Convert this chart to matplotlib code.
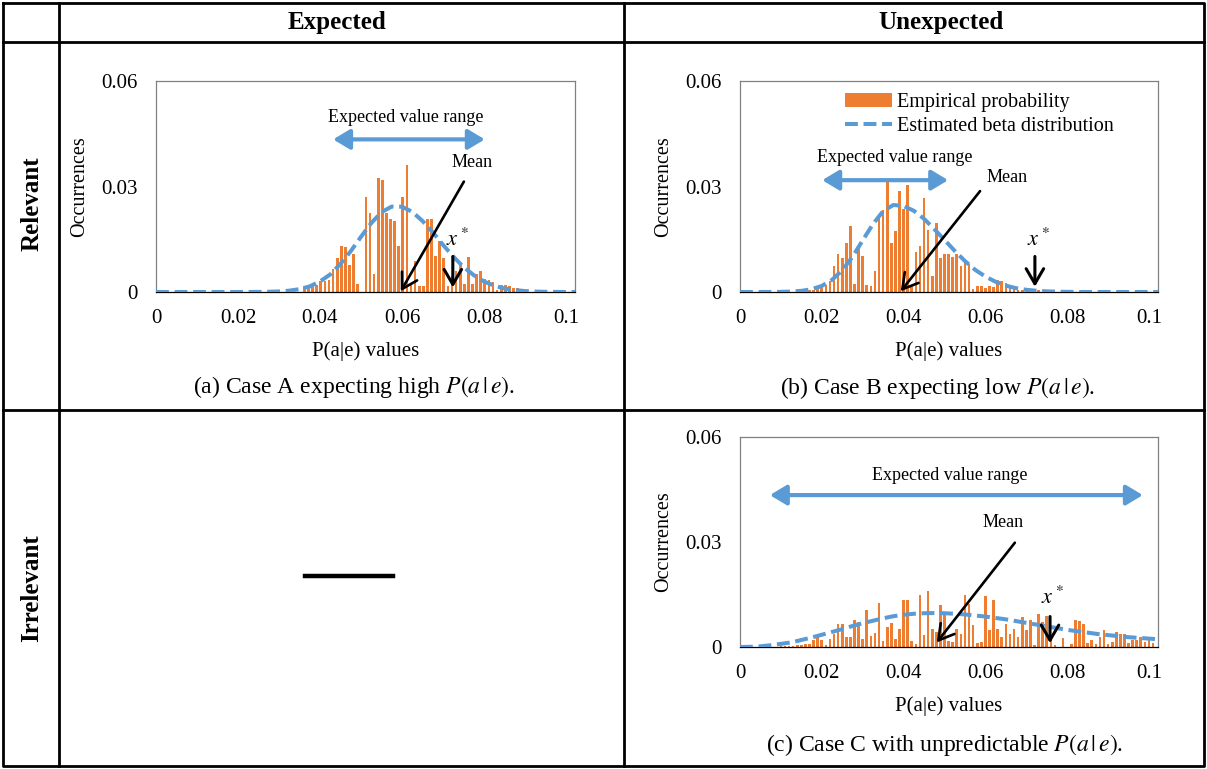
import numpy as np
import matplotlib
matplotlib.use("Agg")
import matplotlib.pyplot as plt

plt.rcParams["font.family"] = ["Liberation Serif", "DejaVu Serif"]
plt.rcParams["mathtext.fontset"] = "stix"

# histogram bins (width 0.001), heights in units of 1e-3
bin_step = 0.001
start_a = 0.0362
probs_a = [1.6, 2.1, 2.4, 2.1, 3.0, 3.0, 3.5, 6.6, 9.7, 13.2,
           12.8, 7.8, 10.9, 2.4, 0.0, 27.1, 22.4, 5.0, 32.3, 31.8,
           22.6, 20.7, 20.2, 13.2, 27.1, 36.1, 2.6, 8.8, 1.6, 1.6,
           20.9, 20.7, 10.2, 14.5, 9.7, 1.8, 4.5, 5.9, 8.1, 2.4,
           10.0, 2.4, 5.0, 6.1, 3.7, 3.5, 2.8, 0.7, 2.1, 2.1,
           1.6, 1.1, 1.0]

start_b = 0.017
probs_b = [0.7, 0.7, 1.1, 1.6, 2.1, 3.0, 7.5, 10.7, 9.7, 13.8,
           18.9, 2.4, 13.2, 10.2, 1.9, 1.6, 6.1, 21.6, 23.2, 31.3,
           13.8, 17.3, 28.8, 23.5, 30.4, 1.6, 11.3, 13.2, 26.6, 17.6,
           4.5, 19.5, 9.7, 10.7, 10.7, 10.0, 10.7, 7.3, 8.5, 8.1,
           0.9, 1.6, 1.6, 1.1, 1.8, 1.4, 3.3, 3.0, 2.6, 1.6,
           0.9, 0.7, 0.5, 0.9, 0.9, 0.7, 0.5]

start_c = 0.010
probs_c = [0.3, 0.3, 0.2, 0.4, 0.7, 0.5, 1.0, 0.8, 1.9, 3.3,
           1.9, 0.7, 2.4, 3.6, 6.7, 6.7, 2.9, 2.9, 7.8, 7.1,
           2.4, 10.7, 3.1, 4.1, 12.7, 1.7, 5.7, 6.9, 2.4, 5.2,
           13.3, 13.3, 1.6, 0.8, 15.0, 3.5, 15.9, 5.2, 4.3, 12.1,
           9.2, 1.6, 1.4, 5.2, 3.8, 15.0, 12.4, 6.4, 1.1, 1.4,
           14.6, 5.0, 13.3, 5.2, 2.9, 6.7, 3.8, 5.2, 2.9, 8.6,
           5.0, 7.6, 0.7, 9.5, 7.1, 8.8, 2.4, 0.5, 0.0, 2.7,
           0.0, 0.8, 7.6, 7.4, 6.7, 1.1, 1.9, 1.0, 3.0, 4.8,
           1.0, 1.4, 4.3, 3.8, 3.8, 1.1, 2.1, 2.1, 3.0, 1.4,
           2.4, 1.2]

# estimated beta curves, read every 0.0025 from 0 to 0.1025 (units of 1e-3)
curve_step = 0.0025
beta_a = [0, 0, 0, 0, 0, 0, 0, 0, 0, 0.01, 0.02, 0.07,
          0.16, 0.38, 0.81, 1.6, 3.0, 5.0, 8.0, 11.6, 15.7, 19.6,
          22.7, 24.3, 24.25, 22.8, 20.2, 17.0, 13.4, 10.1, 7.1, 4.8,
          3.0, 1.8, 1.0, 0.54, 0.27, 0.12, 0.05, 0.02, 0.0, 0.0]
beta_b = [0, 0, 0, 0.01, 0.04, 0.12, 0.32, 0.79, 1.73, 3.45,
          6.2, 10.0, 14.7, 19.3, 23.0, 24.75, 24.45, 23.1, 20.8, 17.9,
          14.8, 11.7, 8.8, 6.3, 4.4, 2.9, 1.8, 1.09, 0.63, 0.35,
          0.18, 0.09, 0.04, 0, 0, 0, 0, 0, 0, 0, 0, 0]
beta_c = [0.0, 0.05, 0.2, 0.5, 0.9, 1.3, 2.0, 2.7, 3.5, 4.3,
          5.1, 6.0, 6.8, 7.5, 8.2, 8.8, 9.2, 9.5, 9.65, 9.7,
          9.65, 9.5, 9.3, 9.0, 8.7, 8.3, 7.9, 7.4, 6.9, 6.4,
          5.9, 5.4, 4.9, 4.5, 4.1, 3.7, 3.4, 3.1, 2.8, 2.6,
          2.4, 2.2]

x_ticks = [0, 0.02, 0.04, 0.06, 0.08, 0.1]
x_tick_labels = ["0", "0.02", "0.04", "0.06", "0.08", "0.1"]
y_ticks = [0, 0.03, 0.06]
y_tick_labels = ["0", "0.03", "0.06"]

ORANGE = "#ed7d31"
BLUE = "#5b9bd5"

W, H = 1207, 769
fig = plt.figure(figsize=(W / 100, H / 100), dpi=100)

# table frame drawn in pixel space
bg = fig.add_axes([0, 0, 1, 1])
bg.set_xlim(0, W)
bg.set_ylim(H, 0)
bg.axis("off")

line_kw = dict(color="black", lw=2.0, solid_capstyle="projecting")
bg.plot([3, 1204, 1204, 3, 3], [3, 3, 766, 766, 3], **line_kw)
bg.plot([59, 59], [3, 766], **line_kw)
bg.plot([624, 624], [3, 766], **line_kw)
bg.plot([3, 1204], [42, 42], **line_kw)
bg.plot([3, 1204], [410, 410], **line_kw)
bg.plot([305, 393], [576, 576], color="black", lw=3.2)

bg.text(337, 22, "Expected", fontsize=18, fontweight="bold", ha="center", va="center")
bg.text(941, 22, "Unexpected", fontsize=18, fontweight="bold", ha="center", va="center")
bg.text(32, 204, "Relevant", fontsize=18, fontweight="bold", rotation=90, ha="center", va="center")
bg.text(32, 588, "Irrelevant", fontsize=18, fontweight="bold", rotation=90, ha="center", va="center")

cap = r"$P(a\,|\,e)$"
bg.text(354, 387, "(a) Case A expecting high " + cap + ".", fontsize=17, ha="center", va="center")
bg.text(938, 388, "(b) Case B expecting low " + cap + ".", fontsize=17, ha="center", va="center")
bg.text(945, 745, "(c) Case C with unpredictable " + cap + ".", fontsize=17, ha="center", va="center")


def px_axes(left, top, right, bottom):
    return fig.add_axes([left / W, 1 - bottom / H, (right - left) / W, (bottom - top) / H])


def panel(ax, start, probs, beta):
    centers = start + bin_step * np.arange(len(probs))
    bars = ax.bar(centers, np.array(probs) * 1e-3, width=0.00065, color=ORANGE,
                  linewidth=0, zorder=2, label="Empirical probability")
    xs = curve_step * np.arange(len(beta))
    line, = ax.plot(xs, np.array(beta) * 1e-3, color=BLUE, lw=2.9, dashes=(3.2, 1.4),
                    zorder=3, label="Estimated beta distribution")
    ax.set_xlim(0, 0.1022)
    ax.set_ylim(0, 0.06)
    ax.set_xticks(x_ticks, x_tick_labels)
    ax.set_yticks(y_ticks, y_tick_labels)
    ax.tick_params(length=0, labelsize=15)
    ax.tick_params(axis="x", pad=12)
    ax.tick_params(axis="y", pad=13.5)
    for s in ax.spines.values():
        s.set_color("#808080")
        s.set_linewidth(0.9)
    ax.spines["bottom"].set_color("black")
    ax.set_xlabel("P(a|e) values", fontsize=15)
    ax.set_ylabel("Occurrences", fontsize=14.5)
    ax.xaxis.set_label_coords(0.5, -0.235)
    ax.yaxis.set_label_coords(-0.16, 0.5)
    return bars, line


def notes(ax, rng, rng_y, rng_label, mean_txt, mean_from, mean_to, xs_txt, xs_x, xs_y):
    ax.annotate("", xy=(rng[1], rng_y), xytext=(rng[0], rng_y),
                arrowprops=dict(arrowstyle="<|-|>,head_length=0.5,head_width=0.3",
                                color=BLUE, lw=3, mutation_scale=20, shrinkA=0, shrinkB=0))
    ax.text(rng_label[0], rng_label[1], "Expected value range", fontsize=13,
            ha="center", va="center")
    ax.text(mean_txt[0], mean_txt[1], "Mean", fontsize=13, ha="center", va="center")
    ax.annotate("", xy=mean_to, xytext=mean_from,
                arrowprops=dict(arrowstyle="->,head_length=0.6,head_width=0.35",
                                color="black", lw=1.9, mutation_scale=18, shrinkA=0, shrinkB=0))
    ax.text(xs_txt[0], xs_txt[1], "$x^*$", fontsize=16, ha="center", va="center")
    ax.annotate("", xy=(xs_x, xs_y[1]), xytext=(xs_x, xs_y[0]),
                arrowprops=dict(arrowstyle="->,head_length=0.6,head_width=0.35",
                                color="black", lw=2.2, mutation_scale=18, shrinkA=0, shrinkB=0))


ax_a = px_axes(156, 81, 575, 292)
panel(ax_a, start_a, probs_a, beta_a)
notes(ax_a, (0.0432, 0.0802), 0.0434, (0.061, 0.0495),
      (0.0771, 0.0369), (0.0751, 0.0314), (0.0597, 0.0002),
      (0.0734, 0.0149), 0.0724, (0.0101, 0.0013))

ax_b = px_axes(740, 81, 1158, 292)
bars_b, line_b = panel(ax_b, start_b, probs_b, beta_b)
notes(ax_b, (0.0201, 0.0509), 0.0318, (0.0379, 0.0383),
      (0.0652, 0.0326), (0.0587, 0.0287), (0.0393, 0.0002),
      (0.0729, 0.0149), 0.0721, (0.0101, 0.0015))
ax_b.legend(handles=[bars_b, line_b], loc="upper left", bbox_to_anchor=(0.251, 0.942),
            frameon=False, fontsize=14.5, handlelength=2.35, handletextpad=0.25,
            labelspacing=0.25, borderpad=0, borderaxespad=0)

ax_c = px_axes(740, 437, 1158, 647)
panel(ax_c, start_c, probs_c, beta_c)
notes(ax_c, (0.0073, 0.0985), 0.0434, (0.0513, 0.0491),
      (0.0643, 0.0357), (0.0672, 0.0298), (0.0481, 0.0013),
      (0.0765, 0.0140), 0.0758, (0.0087, 0.0011))

fig.savefig("out.png", dpi=100)
